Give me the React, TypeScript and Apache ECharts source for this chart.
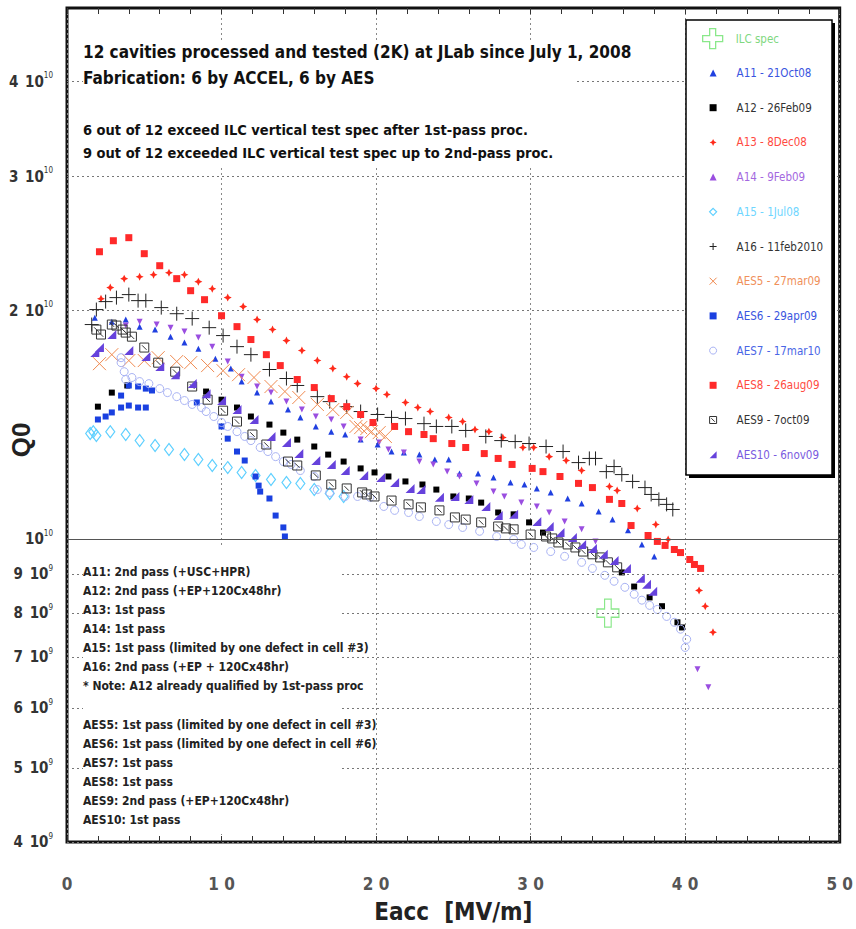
import React, { useEffect, useRef } from "react";
import * as echarts from "echarts";

// Eacc in MV/m, Q0 in units of 1e10
const X_MIN = 0;
const X_MAX = 50;
const X_STEP = 10;
const Y_MIN = 0.4;
const Y_MAX = 5;
const Y_GRID = [0.4, 0.5, 0.6, 0.7, 0.8, 0.9, 1, 2, 3, 4];

const ILC_SPEC = [[35, 0.8]];
const A11 = [[1.8,1.957],[2.9,1.934],[3.8,1.946],[4.7,1.905],[5.7,1.888],[6.7,1.848],[7.6,1.815],[8.5,1.782],[9.6,1.729],[10.6,1.678],[11.3,1.613],[12.3,1.560],[13.2,1.518],[14.3,1.482],[15.1,1.447],[16.1,1.408],[17.1,1.386],[18.0,1.374],[19.0,1.353],[20.1,1.333],[21.0,1.305],[21.8,1.301],[22.8,1.293],[23.8,1.274],[24.7,1.274],[25.4,1.221],[26.6,1.221],[27.6,1.206],[28.7,1.188],[29.6,1.181],[30.4,1.167],[31.3,1.153],[32.4,1.132],[33.3,1.115],[34.4,1.088],[35.3,1.062],[36.3,1.028],[37.2,0.985],[38.0,0.950]];
const A12 = [[2.0,1.495],[2.9,1.560],[3.9,1.594],[9.0,1.565],[10.0,1.527],[11.0,1.491],[11.9,1.451],[13.1,1.416],[14.0,1.382],[14.9,1.353],[16.0,1.325],[16.9,1.293],[17.9,1.266],[19.0,1.240],[19.9,1.225],[20.8,1.210],[21.9,1.192],[23.0,1.181],[23.9,1.163],[25.0,1.139],[26.0,1.132],[26.8,1.118],[27.9,1.085],[28.9,1.079],[29.9,1.053],[30.8,1.021],[35.9,0.905],[36.7,0.867],[37.7,0.839],[38.5,0.817],[39.5,0.778],[39.8,0.766]];
const A13 = [[2.2,2.073],[2.8,2.144],[3.7,2.203],[4.7,2.216],[5.6,2.229],[6.6,2.243],[7.6,2.229],[8.5,2.183],[9.4,2.137],[10.4,2.080],[11.4,2.024],[12.3,1.946],[13.3,1.888],[14.2,1.826],[15.2,1.772],[16.2,1.719],[17.2,1.678],[18.1,1.637],[18.8,1.603],[20.0,1.579],[20.7,1.551],[21.9,1.514],[22.7,1.491],[23.5,1.473],[24.7,1.447],[25.6,1.429],[26.4,1.395],[27.3,1.386],[28.2,1.362],[29.5,1.321],[30.2,1.321],[31.2,1.285],[32.3,1.270],[33.3,1.232],[35.1,1.174],[35.6,1.160],[36.9,1.098],[38.1,1.046],[38.9,1.000],[40.9,0.857],[41.3,0.817],[41.8,0.755]];
const A14 = [[3.8,1.911],[4.7,1.934],[5.8,1.917],[6.7,1.899],[7.6,1.877],[8.5,1.843],[9.4,1.793],[10.4,1.714],[11.3,1.637],[12.3,1.589],[13.2,1.560],[14.2,1.518],[15.2,1.482],[16.1,1.451],[17.1,1.438],[17.9,1.408],[19.0,1.353],[20.2,1.341],[20.8,1.313],[21.8,1.301],[22.8,1.266],[23.7,1.255],[24.6,1.228],[25.4,1.210],[26.5,1.185],[27.6,1.156],[28.3,1.139],[29.4,1.118],[30.4,1.105],[31.2,1.085],[32.2,1.056],[33.3,1.031],[34.2,0.994],[40.8,0.675],[41.5,0.639]];
const A15 = [[1.5,1.378],[1.7,1.386],[1.9,1.370],[2.8,1.386],[3.8,1.374],[4.7,1.349],[5.7,1.329],[6.6,1.313],[7.6,1.293],[8.5,1.274],[9.4,1.251],[10.4,1.243],[11.3,1.225],[12.2,1.214],[13.2,1.199],[14.2,1.188],[15.1,1.185],[16.0,1.163],[17.0,1.149],[17.9,1.139]];
const A16 = [[1.6,1.917],[1.9,2.006],[2.5,2.055],[3.2,2.080],[4.0,2.099],[4.6,2.061],[5.1,2.061],[6.1,2.018],[7.1,1.981],[8.1,1.952],[9.2,1.899],[10.1,1.854],[11.0,1.793],[11.9,1.750],[13.1,1.673],[14.2,1.628],[14.9,1.594],[16.2,1.541],[17.0,1.518],[18.1,1.495],[19.0,1.473],[20.1,1.460],[21.0,1.447],[21.9,1.442],[23.1,1.420],[23.9,1.408],[24.9,1.408],[25.8,1.391],[27.1,1.366],[28.1,1.349],[29.0,1.345],[29.9,1.337],[31.0,1.325],[32.1,1.305],[33.1,1.262],[33.8,1.278],[34.2,1.278],[34.9,1.228],[35.4,1.247],[35.9,1.217],[36.6,1.192],[37.4,1.170],[37.8,1.146],[38.3,1.129],[38.8,1.112],[39.2,1.095]];
const AES5 = [[2.1,1.703],[2.9,1.750],[4.0,1.719],[5.0,1.719],[5.9,1.734],[7.1,1.714],[8.0,1.708],[9.1,1.693],[10.1,1.667],[11.1,1.647],[12.1,1.633],[13.2,1.589],[14.1,1.565],[15.0,1.537],[16.2,1.505],[17.2,1.482],[18.1,1.469],[18.7,1.408],[19.0,1.403],[19.4,1.399],[19.7,1.386],[20.2,1.382],[20.6,1.366]];
const AES6 = [[2.0,1.438],[2.5,1.451],[2.9,1.469],[3.5,1.491],[4.0,1.500],[4.6,1.491],[5.1,1.491],[3.5,1.546],[4.0,1.594],[4.6,1.589],[5.1,1.579],[5.5,1.570],[8.4,1.514],[10.0,1.408],[10.4,1.357],[11.0,1.305],[11.5,1.270],[12.2,1.210],[12.4,1.177],[12.5,1.156],[13.1,1.132],[13.5,1.075],[14.0,1.037],[14.1,1.009]];
const AES7 = [[3.5,1.734],[3.5,1.708],[3.7,1.662],[3.8,1.623],[4.2,1.633],[4.7,1.613],[5.3,1.603],[6.0,1.579],[6.5,1.560],[7.1,1.541],[7.6,1.523],[8.1,1.505],[8.7,1.491],[9.0,1.473],[9.5,1.451],[10.0,1.425],[10.4,1.408],[11.0,1.386],[11.5,1.366],[11.9,1.349],[12.5,1.321],[13.0,1.305],[13.5,1.285],[14.0,1.266],[14.5,1.255],[15.1,1.232],[16.0,1.210],[16.2,1.163],[17.0,1.153],[18.0,1.139],[18.8,1.139],[19.6,1.136],[20.5,1.105],[21.2,1.092],[22.1,1.085],[22.8,1.072],[23.9,1.056],[24.7,1.046],[25.6,1.037],[26.7,1.025],[27.8,1.009],[28.9,1.000],[29.4,0.985],[30.2,0.976],[31.3,0.964],[32.2,0.950],[33.3,0.933],[34.0,0.916],[34.8,0.897],[35.4,0.881],[36.1,0.865],[36.7,0.847],[37.2,0.832],[37.7,0.819],[38.2,0.809],[38.8,0.792],[39.3,0.778],[39.7,0.762],[40.1,0.739],[40.0,0.721]];
const AES8 = [[2.1,2.390],[3.0,2.471],[4.0,2.494],[5.0,2.376],[6.0,2.291],[7.1,2.203],[8.0,2.124],[8.9,2.067],[10.0,1.969],[11.0,1.905],[11.9,1.832],[12.9,1.750],[13.8,1.693],[14.9,1.623],[16.0,1.584],[17.1,1.532],[18.1,1.495],[19.0,1.460],[19.8,1.425],[21.2,1.408],[22.1,1.386],[23.1,1.374],[23.7,1.357],[24.9,1.337],[25.8,1.321],[27.0,1.297],[27.9,1.278],[28.8,1.255],[30.1,1.240],[30.8,1.228],[31.9,1.210],[33.1,1.185],[34.0,1.170],[35.1,1.129],[35.9,1.115],[36.5,1.043],[37.6,1.012],[38.2,0.994],[38.7,0.982],[39.3,0.970],[39.7,0.961],[40.3,0.941],[40.6,0.927],[41.0,0.916]];
const AES9 = [[1.9,1.888],[2.2,1.860],[2.9,1.917],[3.2,1.911],[3.6,1.888],[3.8,1.871],[4.2,1.848],[5.0,1.788],[5.9,1.708],[7.0,1.662],[8.1,1.589],[9.1,1.527],[10.1,1.477],[11.0,1.429],[12.0,1.374],[12.9,1.333],[14.3,1.266],[14.9,1.251],[16.1,1.214],[17.1,1.181],[18.1,1.167],[19.1,1.153],[19.4,1.146],[19.9,1.139],[21.0,1.125],[22.1,1.112],[22.9,1.102],[24.1,1.092],[25.1,1.069],[25.8,1.062],[26.8,1.053],[27.9,1.040],[28.4,1.034],[28.9,1.031],[30.0,1.015],[31.0,1.009],[31.4,1.003],[31.8,0.991],[32.4,0.985],[32.9,0.976],[33.4,0.964],[34.0,0.956],[34.5,0.947],[35.0,0.933],[35.6,0.919]];
const AES10 = [[1.8,1.761],[2.1,1.788],[2.9,1.860],[4.0,1.772],[5.1,1.740],[6.0,1.688],[7.0,1.647],[8.1,1.603],[9.0,1.555],[10.0,1.523],[11.0,1.482],[12.1,1.438],[13.2,1.366],[14.2,1.341],[15.0,1.297],[16.1,1.270],[17.1,1.255],[18.0,1.232],[19.2,1.214],[20.3,1.206],[21.2,1.188],[22.2,1.167],[22.9,1.163],[24.1,1.136],[25.1,1.139],[26.0,1.129],[27.1,1.105],[27.9,1.075],[28.9,1.079],[30.4,1.056],[31.2,1.040],[31.9,1.021],[32.7,1.006],[33.3,0.985],[34.0,0.973],[34.7,0.956],[35.4,0.938],[36.2,0.916],[37.1,0.889],[37.5,0.873],[37.9,0.855]];

const SERIES_NAMES = [
  "ILC spec", "A11 - 21Oct08", "A12 - 26Feb09", "A13 - 8Dec08", "A14 - 9Feb09",
  "A15 - 1Jul08", "A16 - 11feb2010", "AES5 - 27mar09", "AES6 - 29apr09",
  "AES7 - 17mar10", "AES8 - 26aug09", "AES9 - 7oct09", "AES10 - 6nov09",
];
const SERIES_DATA = [ILC_SPEC, A11, A12, A13, A14, A15, A16, AES5, AES6, AES7, AES8, AES9, AES10];

const TOP_LINES = [
  "12 cavities processed and tested (2K) at JLab since July 1, 2008",
  "Fabrication: 6 by ACCEL, 6 by AES",
  "6 out of 12 exceed ILC vertical test spec after 1st-pass proc.",
  "9 out of 12 exceeded ILC vertical test spec up to 2nd-pass proc.",
];
const NOTE_A = [
  "A11: 2nd pass (+USC+HPR)",
  "A12: 2nd pass (+EP+120Cx48hr)",
  "A13: 1st pass",
  "A14: 1st pass",
  "A15: 1st pass (limited by one defect in cell #3)",
  "A16: 2nd pass (+EP + 120Cx48hr)",
  "* Note: A12 already qualified by 1st-pass proc",
];
const NOTE_AES = [
  "AES5: 1st pass (limited by one defect in cell #3)",
  "AES6: 1st pass (limited by one defect in cell #6)",
  "AES7: 1st pass",
  "AES8: 1st pass",
  "AES9: 2nd pass (+EP+120Cx48hr)",
  "AES10: 1st pass",
];

const FONT_N = '"Liberation Sans Narrow","DejaVu Sans Condensed","Arial Narrow",sans-serif';
const FONT = '"Liberation Sans",Arial,sans-serif';
const CLEAR = "rgba(0,0,0,0)";

// marker styles, one per series (same order as SERIES_NAMES)
const STYLES: any[] = [
  { symbol: "path://M7,0L13,0L13,7L20,7L20,13L13,13L13,20L7,20L7,13L0,13L0,7L7,7Z", size: [22, 28], fill: CLEAR, stroke: "#8ae88a", bw: 1.3, text: "#7fd87f" },
  { symbol: "triangle", size: 6, fill: "#2040e0", text: "#3a55e0" },
  { symbol: "rect", size: 6, fill: "#000", text: "#333" },
  { symbol: "path://M5,0L6.6,3.4L10,5L6.6,6.6L5,10L3.4,6.6L0,5L3.4,3.4Z", size: 8, fill: "#ff2a1a", text: "#ff4a40" },
  { symbol: "triangle", rotate: 180, size: 6, fill: "#9a4ee0", text: "#a468e0" },
  { symbol: "diamond", size: [9, 12], fill: CLEAR, stroke: "#5fd0ff", bw: 1.2, text: "#6fd6ff" },
  { symbol: "path://M5,0L5,10M0,5L10,5", size: 14, fill: CLEAR, stroke: "#222", bw: 1, text: "#333" },
  { symbol: "path://M0,0L10,10M10,0L0,10", size: 13, fill: CLEAR, stroke: "#f08a50", bw: 1, text: "#f0905a" },
  { symbol: "rect", size: 6, fill: "#1a40e0", text: "#3a55e0" },
  { symbol: "circle", size: 8, fill: CLEAR, stroke: "#a8b2f4", bw: 1, text: "#4a66e6" },
  { symbol: "rect", size: 7, fill: "#ff2a2a", text: "#ff4a40" },
  { symbol: "path://M0,0L10,0L10,10L0,10ZM2.5,2.5L7.5,7.5", size: 9, fill: CLEAR, stroke: "#333", bw: 1, text: "#333" },
  { symbol: "path://M10,0L10,10L0,10Z", size: 9, fill: "#6642dc", text: "#7a5ae0" },
];

function qLabel(v: number): string {
  const raw = v * 1e10;
  const exp = Math.floor(Math.log10(raw) + 1e-9);
  const m = Math.round(raw / Math.pow(10, exp));
  return m === 1 ? `{b|10}{s|${exp}}` : `{a|${m}}  {b|10}{s|${exp}}`;
}

export default function App() {
  const ref = useRef<HTMLDivElement>(null);
  useEffect(() => {
    document.body.style.margin = "0";
    const chart = echarts.init(ref.current!, null, { renderer: "svg" });

    const series: any[] = SERIES_NAMES.map((name, i) => {
      const st = STYLES[i];
      const s: any = {
        name,
        type: "scatter",
        data: SERIES_DATA[i],
        symbol: st.symbol,
        symbolSize: st.size,
        symbolRotate: st.rotate || 0,
        itemStyle: {
          color: st.fill,
          borderColor: st.stroke || st.fill,
          borderWidth: st.bw || 0,
          opacity: 1,
        },
        emphasis: { disabled: true },
        z: i === 0 ? 3 : 2,
      };
      if (i === 0) {
        s.markLine = {
          silent: true,
          symbol: ["none", "none"],
          z: 5,
          data: Y_GRID.map((v) => ({
            yAxis: v,
            lineStyle:
              v === 1
                ? { type: "solid", color: "#555", width: 1 }
                : { type: [2, 3], color: "#777", width: 1 },
          })),
          label: {
            show: true,
            position: "start",
            distance: 14,
            formatter: (p: any) => qLabel(p.value),
            rich: {
              a: { fontFamily: FONT_N, fontSize: 15, fontWeight: "bold", color: "#333", lineHeight: 20 },
              b: { fontFamily: FONT_N, fontSize: 15, fontWeight: "bold", color: "#333", lineHeight: 20 },
              s: { fontFamily: FONT_N, fontSize: 8, color: "#333", verticalAlign: "top", lineHeight: 10 },
            },
          },
        };
      }
      return s;
    });

    const graphic: any[] = [
      // white backing boxes behind annotation text
      { type: "rect", z: 9, silent: true, shape: { x: 83, y: 42, width: 492, height: 126 }, style: { fill: "#fff" } },
      { type: "rect", z: 9, silent: true, shape: { x: 83, y: 548, width: 257, height: 286 }, style: { fill: "#fff" } },
      // legend frame with shadow
      { type: "rect", z: 9, silent: true, shape: { x: 689, y: 23, width: 146, height: 455 }, style: { fill: "#000" } },
      { type: "rect", z: 10, silent: true, shape: { x: 686, y: 20, width: 146, height: 455 }, style: { fill: "#fff", stroke: "#000", lineWidth: 1.5 } },
      // y axis title
      {
        type: "text", z: 11, x: 21, y: 440, rotation: Math.PI / 2,
        style: { text: "Q0", fontFamily: FONT, fontSize: 26, fontWeight: "bold", fill: "#222", align: "center", verticalAlign: "middle" },
      },
    ];
    const topY = [52, 78, 130, 153];
    const topSize = [17, 17, 14.5, 14.5];
    TOP_LINES.forEach((t, i) => {
      graphic.push({
        type: "text", z: 11, x: 83, y: topY[i],
        style: { text: t, fontFamily: FONT_N, fontSize: topSize[i], fontWeight: "bold", fill: "#111", verticalAlign: "middle" },
      });
    });
    NOTE_A.forEach((t, i) => {
      graphic.push({
        type: "text", z: 11, x: 83, y: 572 + 19 * i,
        style: { text: t, fontFamily: FONT_N, fontSize: 12, fontWeight: "bold", fill: "#222", verticalAlign: "middle" },
      });
    });
    NOTE_AES.forEach((t, i) => {
      graphic.push({
        type: "text", z: 11, x: 83, y: 725 + 19 * i,
        style: { text: t, fontFamily: FONT_N, fontSize: 12, fontWeight: "bold", fill: "#222", verticalAlign: "middle" },
      });
    });

    const legendCommon = {
      orient: "vertical",
      padding: 0,
      selectedMode: false,
      z: 11,
      itemStyle: { borderWidth: "inherit" },
    };

    const option: any = {
      animation: false,
      backgroundColor: "#fff",
      grid: { left: 67, right: 9, top: 8, bottom: 86, show: true, borderColor: "#111", borderWidth: 3, backgroundColor: "transparent" },
      legend: [
        {
          ...legendCommon,
          left: 702,
          top: 28,
          itemWidth: 20,
          itemHeight: 21,
          textStyle: { fontFamily: FONT_N, fontSize: 11.5, padding: [0, 0, 0, 8] },
          data: [{ name: SERIES_NAMES[0], textStyle: { color: STYLES[0].text } }],
        },
        {
          ...legendCommon,
          left: 709,
          top: 67,
          itemWidth: 7,
          itemHeight: 7,
          itemGap: 22.7,
          textStyle: { fontFamily: FONT_N, fontSize: 11.5, padding: [0, 0, 0, 15] },
          data: SERIES_NAMES.slice(1).map((n, i) => ({ name: n, textStyle: { color: STYLES[i + 1].text } })),
        },
      ],
      xAxis: [
        {
          type: "value", min: X_MIN, max: X_MAX, interval: X_STEP,
          name: "Eacc  [MV/m]", nameLocation: "middle", nameGap: 58,
          nameTextStyle: { fontFamily: FONT_N, fontSize: 24, fontWeight: "bold", color: "#222" },
          axisLine: { show: false },
          axisTick: { show: true, inside: true, length: 6, lineStyle: { color: "#333" } },
          minorTick: { show: true, splitNumber: 5, length: 6, lineStyle: { color: "#333" } },
          axisLabel: {
            margin: 33, fontFamily: FONT_N, fontSize: 17, fontWeight: "bold", color: "#555",
            formatter: (v: number) => String(v).split("").join(" "),
          },
          splitLine: { show: true, lineStyle: { type: [2, 3], color: "#888", width: 1 } },
        },
        {
          type: "value", position: "top", min: X_MIN, max: X_MAX, interval: X_STEP,
          axisLine: { show: false },
          axisTick: { show: true, inside: true, length: 6, lineStyle: { color: "#333" } },
          minorTick: { show: true, splitNumber: 5, length: 6, lineStyle: { color: "#333" } },
          axisLabel: { show: false },
          splitLine: { show: false },
        },
      ],
      yAxis: {
        type: "log", logBase: 10, min: Y_MIN, max: Y_MAX,
        axisLine: { show: false }, axisTick: { show: false },
        axisLabel: { show: false }, splitLine: { show: false },
      },
      graphic,
      series,
    };
    chart.setOption(option);
    return () => chart.dispose();
  }, []);
  return <div ref={ref} style={{ width: 856, height: 929 }} />;
}
